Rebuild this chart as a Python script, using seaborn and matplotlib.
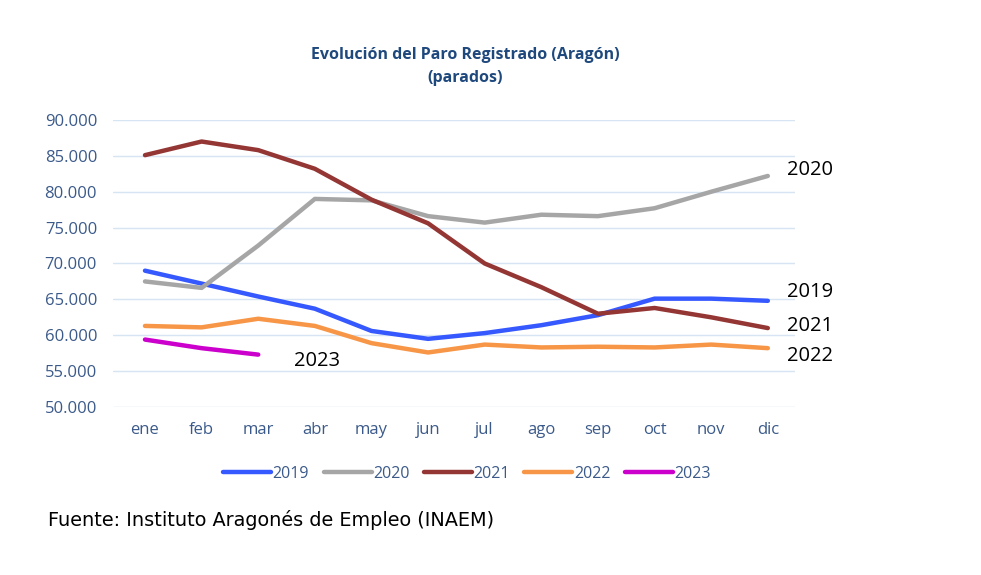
import numpy as np
import pandas as pd
import seaborn as sns
import matplotlib
matplotlib.use("Agg")
from matplotlib import pyplot as plt

meses = ["ene", "feb", "mar", "abr", "may", "jun", "jul", "ago", "sep", "oct", "nov", "dic"]
paro_2019 = [69000, 67200, 65400, 63700, 60600, 59500, 60300, 61400, 62800, 65100, 65100, 64800]
paro_2020 = [67500, 66600, 72500, 79000, 78800, 76600, 75700, 76800, 76600, 77700, 80000, 82200]
paro_2021 = [85100, 87000, 85800, 83200, 78900, 75600, 70000, 66700, 63000, 63800, 62500, 61000]
paro_2022 = [61300, 61100, 62300, 61300, 58900, 57600, 58700, 58300, 58400, 58300, 58700, 58200]
paro_2023 = [59400, 58200, 57300]
years = ["2019", "2020", "2021", "2022", "2023"]
colors = ["#3658FF", "#A6A6A6", "#943634", "#F79646", "#CC00CC"]

series = [paro_2019, paro_2020, paro_2021, paro_2022, paro_2023]
rows = []
for year, vals in zip(years, series):
    for i, v in enumerate(vals):
        rows.append({"mes": i, "year": year, "parados": v})
df = pd.DataFrame(rows)

sns.set_style("white")
plt.rcParams["font.family"] = ["Open Sans", "DejaVu Sans"]

fig = plt.figure(figsize=(9.81, 5.75), dpi=100)
ax = fig.add_axes([113 / 981, 1 - 407 / 575, (795 - 113) / 981, (407 - 120) / 575])

sns.lineplot(data=df, x="mes", y="parados", hue="year", palette=dict(zip(years, colors)),
             linewidth=3.2, ax=ax, legend=False, solid_capstyle="round", solid_joinstyle="round")

ax.set_xlim(-0.565, 11.48)
ax.set_ylim(50000, 90000)
ax.set_yticks(np.arange(50000, 90001, 5000))
ax.set_yticklabels([f"{v:,}".replace(",", ".") for v in range(50000, 90001, 5000)])
ax.set_xticks(range(12))
ax.set_xticklabels(meses)
ax.tick_params(axis="both", colors="#3B5A8A", labelsize=12, length=0)
ax.tick_params(axis="x", pad=11)
ax.tick_params(axis="y", pad=11.5)
ax.grid(axis="y", color="#D6E4F4", linewidth=1)
ax.set_axisbelow(True)
for s in ax.spines.values():
    s.set_visible(False)
ax.set_xlabel("")
ax.set_ylabel("")

# etiquetas al final de cada serie
end_labels = {"2020": (11, paro_2020[-1]), "2019": (11, paro_2019[-1]),
              "2021": (11, paro_2021[-1]), "2022": (11, paro_2022[-1])}
offsets = {"2020": 800, "2019": 1200, "2021": 300, "2022": -1100}
for y, (xi, v) in end_labels.items():
    ax.text(xi + 0.33, v + offsets[y], y, fontsize=14.5, color="black", va="center", ha="left")
ax.text(2.64, 56400, "2023", fontsize=14.5, color="black", va="center", ha="left")

fig.text(465 / 981, 1 - 55 / 575, "Evolución del Paro Registrado (Aragón)", ha="center", va="center",
         fontsize=11.5, fontweight="bold", color="#1F497D")
fig.text(465 / 981, 1 - 78 / 575, "(parados)", ha="center", va="center",
         fontsize=11.5, fontweight="bold", color="#1F497D")

handles = [plt.Line2D([], [], color=c, linewidth=3.2, solid_capstyle="round") for c in colors]
leg = fig.legend(handles, years, loc="center", bbox_to_anchor=(467 / 981, 1 - 474 / 575), ncol=5,
                 frameon=False, fontsize=11.5, handlelength=3.0, handletextpad=0.1, columnspacing=0.9)
for t in leg.get_texts():
    t.set_color("#3B5A8A")

fig.text(48 / 981, 1 - 520 / 575, "Fuente: Instituto Aragonés de Empleo (INAEM)", ha="left", va="center",
         fontsize=13.9, color="black", family="DejaVu Sans")

fig.savefig("out.png", dpi=100)
